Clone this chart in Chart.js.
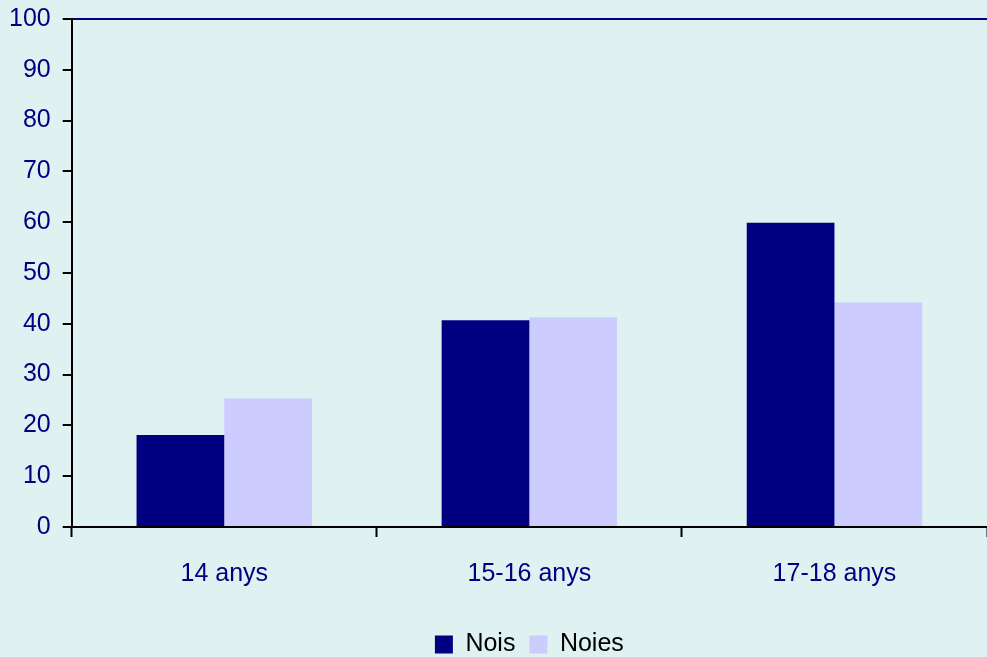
<!DOCTYPE html>
<html>
<head>
<meta charset="utf-8">
<script src="https://cdn.jsdelivr.net/npm/chart.js@4"></script>
<style>
  html, body { margin: 0; padding: 0; background: #dff1f1; }
  #wrap { width: 987px; height: 657px; }
</style>
</head>
<body>
<div id="wrap"><canvas id="chart"></canvas></div>
<script>
const labels = ["14 anys", "15-16 anys", "17-18 anys"];
const nois = [18.1, 40.7, 59.9];
const noies = [25.3, 41.3, 44.2];

const navy = "#000080";
const lilac = "#ccccff";

Chart.defaults.font.family = "'Liberation Sans', Arial, sans-serif";
Chart.defaults.font.size = 25;

const context = document.getElementById("chart").getContext("2d");
const chart = new Chart(context, {
    type: "bar",
    data: {
        labels,
        datasets: [
            { label: "Nois", data: nois, backgroundColor: navy },
            { label: "Noies", data: noies, backgroundColor: lilac }
        ]
    },
    options: {
        responsive: true,
        maintainAspectRatio: false,
        animation: false,
        categoryPercentage: 0.575,
        barPercentage: 1,
        layout: { padding: { left: 0, top: 0, right: 0, bottom: -10 } },
        scales: {
            x: {
                grid: {
                    offset: true,
                    drawOnChartArea: false,
                    color: "#000",
                    tickColor: "#000",
                    tickLength: 10,
                    tickWidth: 2
                },
                border: { color: "#000", width: 2 },
                ticks: { color: navy, padding: 22 },
                // leave room between the category labels and the legend
                afterFit: (scale) => { scale.height += 7; }
            },
            y: {
                min: 0,
                max: 100,
                grid: {
                    // only the 100 line is drawn, across the full plot
                    color: (c) => c.tick && c.tick.value === 100 ? navy : "rgba(0,0,0,0)",
                    lineWidth: 2,
                    tickColor: "#000",
                    tickLength: 9,
                    tickWidth: 2
                },
                border: { color: "#000", width: 2 },
                ticks: { stepSize: 10, color: navy, padding: 12 },
                afterFit: (scale) => {
                    scale.width -= 3;
                    scale.paddingTop = 19;
                }
            }
        },
        plugins: {
            legend: {
                position: "bottom",
                fullSize: false,
                labels: {
                    color: "#000",
                    boxWidth: 18,
                    boxHeight: 18,
                    padding: 14
                }
            },
            tooltip: { enabled: false }
        }
    }
});
</script>
</body>
</html>
